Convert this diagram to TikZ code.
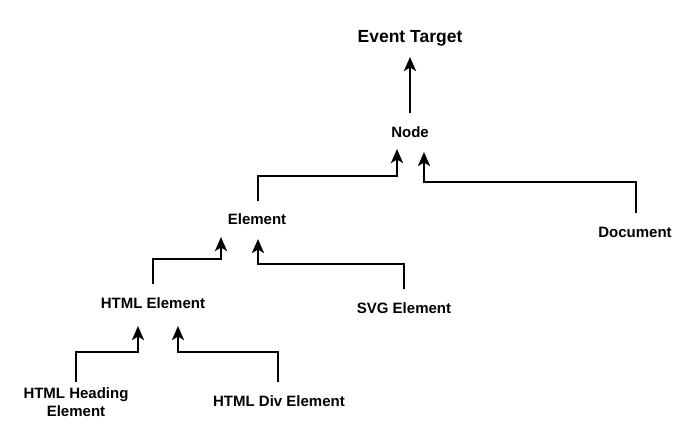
\documentclass[tikz,border=0pt]{standalone}
\usepackage{fontspec}
\setmainfont{Liberation Sans}
\usetikzlibrary{arrows.meta}
\begin{document}
\begin{tikzpicture}[x=1pt,y=-1pt,
  lbl/.style={font=\bfseries\fontsize{15}{18}\selectfont,inner sep=0pt,align=center},
  arr/.style={line width=2.7pt,-{Stealth[length=14pt,width=12pt,inset=3.5pt]}}]
\useasboundingbox (0,0) rectangle (679,423);
\node[lbl,font=\bfseries\fontsize{17.5}{20}\selectfont] (et) at (410,38) {Event Target};
\node[lbl] (nd) at (410,132) {Node};
\node[lbl] (el) at (257,219) {Element};
\node[lbl] (doc) at (635,232) {Document};
\node[lbl] (html) at (153,303) {HTML Element};
\node[lbl] (svg) at (404,308) {SVG Element};
\node[lbl] (head) at (76,402) {HTML Heading\\Element};
\node[lbl] (div) at (279,401) {HTML Div Element};
% connectors
\draw[arr] ([yshift=19pt]nd.center) -- ([yshift=-19pt]et.center);
\draw[arr] ([xshift=1pt,yshift=18pt]el.center) -- ([xshift=1pt,yshift=43pt]el.center) -| ([xshift=-13pt,yshift=-17pt]nd.center);
\draw[arr] ([xshift=1pt,yshift=19pt]doc.center) -- ([xshift=1pt,yshift=50pt]doc.center) -| ([xshift=14pt,yshift=-20pt]nd.center);
\draw[arr] ([yshift=19pt]html.center) -- ([yshift=44pt]html.center) -| ([xshift=-36pt,yshift=-18pt]el.center);
\draw[arr] ([yshift=19pt]svg.center) -- ([yshift=44pt]svg.center) -| ([xshift=1pt,yshift=-20pt]el.center);
\draw[arr] ([yshift=20pt]head.center) -- ([yshift=50pt]head.center) -| ([xshift=-15pt,yshift=-23pt]html.center);
\draw[arr] ([xshift=-1pt,yshift=19pt]div.center) -- ([xshift=-1pt,yshift=49pt]div.center) -| ([xshift=25pt,yshift=-23pt]html.center);
\end{tikzpicture}
\end{document}
